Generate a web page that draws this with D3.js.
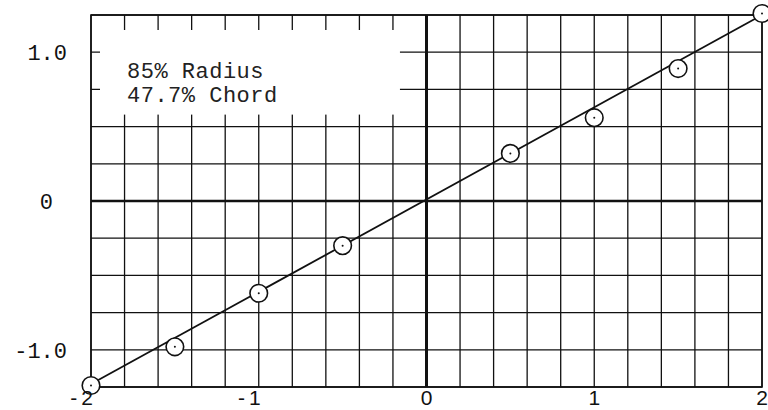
<!DOCTYPE html>
<html><head><meta charset="utf-8">
<script src="https://cdn.jsdelivr.net/npm/d3@7/dist/d3.min.js"></script>
<style>
html,body{margin:0;padding:0;background:#fff;}
svg{display:block;}
</style></head>
<body>
<svg id="chart" width="768" height="410"></svg>
<script>
// Data
const pointX = [-2, -1.5, -1, -0.5, 0.5, 1, 1.5, 2];
const pointY = [-1.24, -0.98, -0.62, -0.30, 0.32, 0.56, 0.89, 1.26];
const lineX = [-2, 2];
const lineY = [-1.23, 1.25];
const xTickValues = [-2, -1, 0, 1, 2];
const xTickLabels = ["-2", "-1", "0", "1", "2"];
const yTickValues = [1.0, 0, -1.0];
const yTickLabels = ["1.0", "0", "-1.0"];
const noteLines = ["85% Radius", "47.7% Chord"];

const W = 768, H = 410;
const m = {left: 91, right: 6, top: 15, bottom: 23};
const svg = d3.select("#chart");
const x = d3.scaleLinear().domain([-2, 2]).range([m.left, W - m.right]);
const y = d3.scaleLinear().domain([-1.25, 1.25]).range([H - m.bottom, m.top]);

const ink = "#111";
const g = svg.append("g");

// grid
const gx = x.ticks(20);
const gy = d3.range(-1.25, 1.2501, 0.25);
g.selectAll("line.gx").data(gx).join("line")
  .attr("x1", d => x(d)).attr("x2", d => x(d))
  .attr("y1", y(-1.25)).attr("y2", y(1.25))
  .attr("stroke", ink).attr("stroke-width", 1.3);
g.selectAll("line.gy").data(gy).join("line")
  .attr("x1", x(-2)).attr("x2", x(2))
  .attr("y1", d => y(d)).attr("y2", d => y(d))
  .attr("stroke", ink).attr("stroke-width", 1.3);

// note box (covers grid, leaving tick stubs)
g.append("rect")
  .attr("x", x(-2) + 9).attr("y", y(1.25) + 15)
  .attr("width", x(-0.2) + 7 - (x(-2) + 9))
  .attr("height", y(0.5) - 12 - (y(1.25) + 15))
  .attr("fill", "#fff");

// border
g.append("rect")
  .attr("x", x(-2)).attr("y", y(1.25))
  .attr("width", x(2) - x(-2)).attr("height", y(-1.25) - y(1.25))
  .attr("fill", "none").attr("stroke", ink).attr("stroke-width", 1.6);

// axes through zero
g.append("line").attr("x1", x(0)).attr("x2", x(0)).attr("y1", y(1.25)).attr("y2", y(-1.25))
  .attr("stroke", ink).attr("stroke-width", 3);
g.append("line").attr("x1", x(-2)).attr("x2", x(2)).attr("y1", y(0)).attr("y2", y(0))
  .attr("stroke", ink).attr("stroke-width", 2.6);

// fitted line
const lineData = lineX.map((v, i) => [v, lineY[i]]);
g.append("path").datum(lineData)
  .attr("d", d3.line().x(d => x(d[0])).y(d => y(d[1])))
  .attr("fill", "none").attr("stroke", ink).attr("stroke-width", 1.8);

// points
const pts = pointX.map((v, i) => [v, pointY[i]]);
g.selectAll("circle.pt").data(pts).join("circle")
  .attr("cx", d => x(d[0])).attr("cy", d => y(d[1])).attr("r", 8.8)
  .attr("fill", "#fff").attr("stroke", ink).attr("stroke-width", 1.6);
g.selectAll("circle.dot").data(pts).join("circle")
  .attr("cx", d => x(d[0])).attr("cy", d => y(d[1])).attr("r", 1)
  .attr("fill", ink);

// note text
g.selectAll("text.note").data(noteLines).join("text")
  .attr("x", 127).attr("y", (d, i) => 78 + i * 24)
  .attr("font-family", "'Liberation Mono', 'DejaVu Sans Mono', monospace")
  .attr("font-size", 22).attr("letter-spacing", 0.5).attr("fill", "#222").text(d => d);

// y tick labels
g.selectAll("text.yl").data(yTickValues).join("text")
  .attr("x", (d, i) => yTickLabels[i] === "0" ? 53 : 67)
  .attr("y", d => y(d)).attr("dy", "0.36em")
  .attr("text-anchor", "end")
  .attr("font-family", "'Liberation Mono', 'DejaVu Sans Mono', monospace")
  .attr("font-size", 22).attr("fill", ink)
  .text((d, i) => yTickLabels[i]);

// x tick labels
g.selectAll("text.xl").data(xTickValues).join("text")
  .attr("x", d => d < 0 ? x(d) + 6 : (d === 2 ? x(d) + 6 : x(d)))
  .attr("y", H - 5)
  .attr("text-anchor", d => d < 0 || d === 2 ? "end" : "middle")
  .attr("font-family", "'Liberation Sans', 'DejaVu Sans', sans-serif")
  .attr("font-size", 21).attr("fill", ink)
  .attr("letter-spacing", d => d < 0 ? 4 : 0)
  .text((d, i) => xTickLabels[i]);
</script>
</body></html>
